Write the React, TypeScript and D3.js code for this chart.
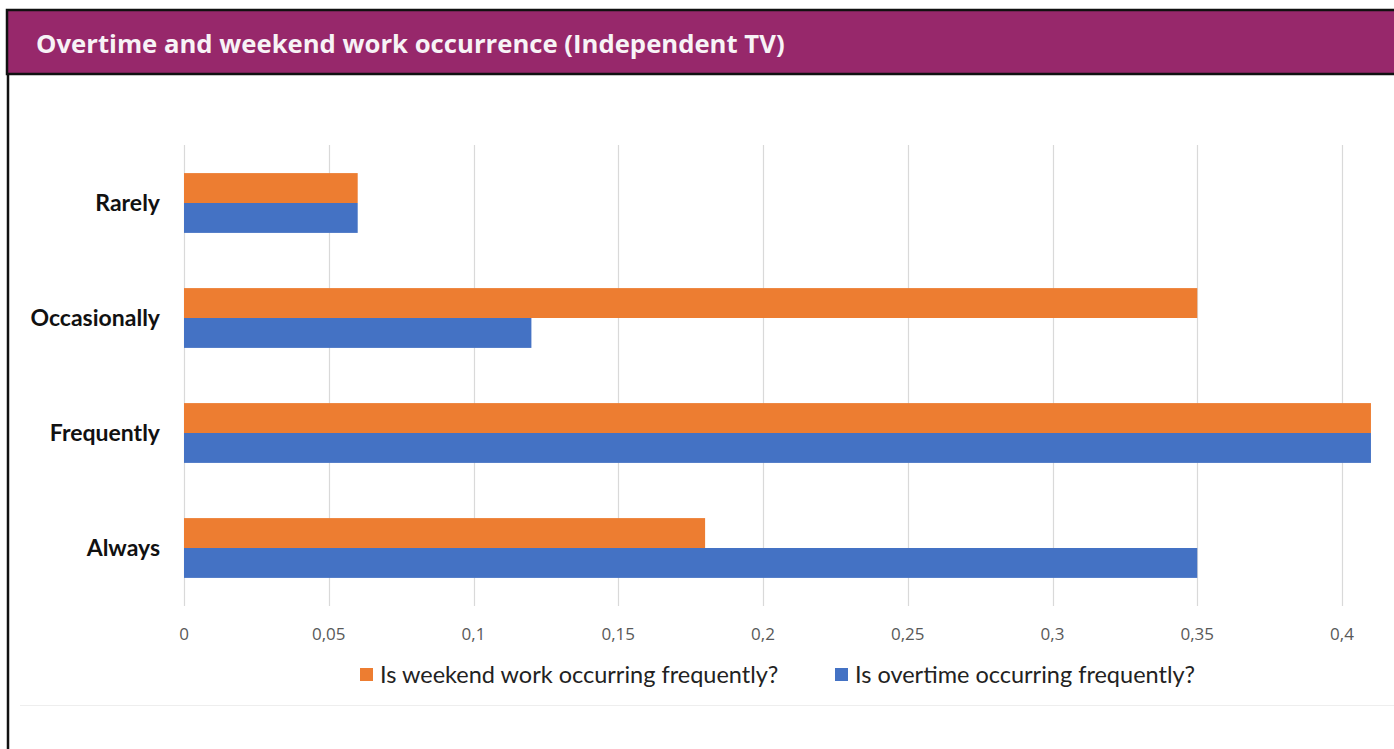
import { useRef, useEffect } from 'react'
import * as d3 from 'd3'

const categories = ['Rarely', 'Occasionally', 'Frequently', 'Always']
const weekendWork = [0.06, 0.35, 0.41, 0.18]
const overtime = [0.06, 0.12, 0.41, 0.35]
const ticks = [0, 0.05, 0.1, 0.15, 0.2, 0.25, 0.3, 0.35, 0.4]
const seriesNames = ['Is weekend work occurring frequently?', 'Is overtime occurring frequently?']
const colors = ['#ED7D31', '#4472C4']

const App = () => {
  const svgRef = useRef<SVGSVGElement>(null)

  useEffect(() => {
    if (!svgRef.current) return
    const svg = d3.select(svgRef.current)
    svg.selectAll('*').remove()

    const width = 1394
    const height = 749

    // frame + header
    svg.append('rect').attr('width', width).attr('height', height).attr('fill', '#fff')
    svg.append('line')
      .attr('x1', 8).attr('x2', 8).attr('y1', 74).attr('y2', height)
      .attr('stroke', '#111').attr('stroke-width', 2.5)
    svg.append('rect')
      .attr('x', 7).attr('y', 10).attr('width', width + 10).attr('height', 64)
      .attr('fill', '#97286B').attr('stroke', '#111').attr('stroke-width', 2.5)
    svg.append('text')
      .attr('x', 36).attr('y', 53)
      .attr('fill', '#f7f3f6')
      .attr('font-family', '"Open Sans", sans-serif')
      .attr('font-weight', 700)
      .attr('font-size', '25.7px')
      .text('Overtime and weekend work occurrence (Independent TV)')

    // faint bottom rule of the embedded chart
    svg.append('line')
      .attr('x1', 20).attr('x2', width).attr('y1', 705.5).attr('y2', 705.5)
      .attr('stroke', '#eeeeee').attr('stroke-width', 1)

    const x = d3.scaleLinear().domain([0, 0.4]).range([184, 1342])
    const y = d3.scaleBand().domain(categories).range([145.5, 605.5]).paddingInner(0.48).paddingOuter(0.24)
    const sub = d3.scaleBand().domain(['0', '1']).range([0, y.bandwidth()])

    const g = svg.append('g')

    g.selectAll('.grid')
      .data(ticks)
      .join('line')
      .attr('class', 'grid')
      .attr('x1', d => Math.round(x(d)) + 0.5)
      .attr('x2', d => Math.round(x(d)) + 0.5)
      .attr('y1', 145).attr('y2', 606)
      .attr('stroke', '#d9d9d9').attr('stroke-width', 1.2)

    g.selectAll('.tick')
      .data(ticks)
      .join('text')
      .attr('class', 'tick')
      .attr('x', d => x(d))
      .attr('y', 640)
      .attr('text-anchor', 'middle')
      .attr('fill', '#595959')
      .attr('font-family', '"Open Sans", sans-serif')
      .attr('font-size', '17px')
      .text(d => String(d).replace('.', ','))

    const series = [weekendWork, overtime]
    series.forEach((vals, si) => {
      g.selectAll(`.bar${si}`)
        .data(categories)
        .join('rect')
        .attr('class', `bar${si}`)
        .attr('x', x(0))
        .attr('y', d => (y(d) || 0) + (sub(String(si)) || 0))
        .attr('width', (_, i) => x(vals[i]) - x(0))
        .attr('height', sub.bandwidth())
        .attr('fill', colors[si])
    })

    g.selectAll('.cat')
      .data(categories)
      .join('text')
      .attr('class', 'cat')
      .attr('x', 160)
      .attr('y', d => (y(d) || 0) + y.bandwidth() / 2)
      .attr('dy', '0.35em')
      .attr('text-anchor', 'end')
      .attr('fill', '#111')
      .attr('font-family', 'Lato, "Open Sans", sans-serif')
      .attr('font-weight', 700)
      .attr('font-size', '23px')
      .text(d => d)

    // legend
    const legendX = [360, 835]
    const leg = g.selectAll('.legend')
      .data(seriesNames)
      .join('g')
      .attr('class', 'legend')
      .attr('transform', (_, i) => `translate(${legendX[i]},668)`)
    leg.append('rect').attr('width', 13).attr('height', 13).attr('fill', (_, i) => colors[i])
    leg.append('text')
      .attr('x', 20).attr('y', 6.5).attr('dy', '0.35em')
      .attr('fill', '#222')
      .attr('font-family', 'Lato, "Open Sans", sans-serif')
      .attr('font-size', '23.5px')
      .text(d => d)
  }, [])

  return (
    <div style={{ position: 'absolute', left: 0, top: 0 }}>
      <svg ref={svgRef} width={1394} height={749} style={{ display: 'block' }} />
    </div>
  )
}

export default App
